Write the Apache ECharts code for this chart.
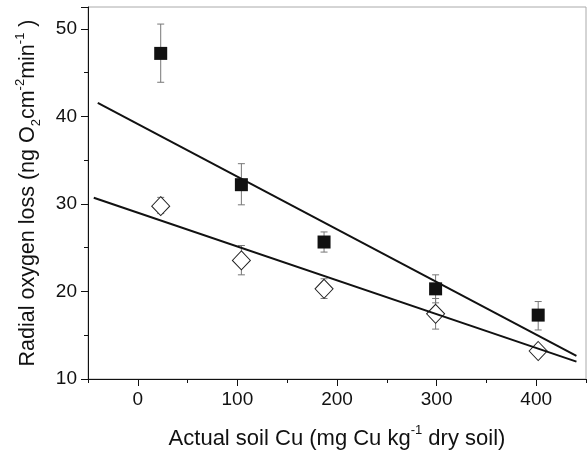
<!DOCTYPE html>
<html>
<head>
    <meta charset="utf-8">
    <title>Radial oxygen loss</title>
    <script src="https://cdn.jsdelivr.net/npm/echarts@6/dist/echarts.min.js"></script>
    <style>
        html, body { margin: 0; padding: 0; background: #fff; }
        #main { width: 588px; height: 455px; }
    </style>
</head>
<body>
<div id="main"></div>
<script type="text/javascript">
    // soil Cu (x) for both treatments
    var cuLevels = [23, 104, 187, 299, 402];

    // filled squares
    var squareMean = [47.2, 32.2, 25.65, 20.3, 17.3];
    var squareLow  = [43.9, 29.9, 24.5, 18.7, 15.6];
    var squareHigh = [50.55, 34.6, 26.8, 21.9, 18.85];

    // open diamonds
    var diamondMean = [29.75, 23.55, 20.3, 17.45, 13.2];
    var diamondLow  = [28.9, 21.9, 19.2, 15.7, 12.6];
    var diamondHigh = [30.75, 25.25, 21.45, 19.2, 13.7];

    // fitted regression lines (end points)
    var fitSquare  = [[-40.2, 41.54], [440.4, 12.63]];
    var fitDiamond = [[-44.2, 30.70], [440.4, 11.98]];

    var xMajorTicks = [0, 100, 200, 300, 400];
    var xMinorTicks = [-50, 50, 150, 250, 350, 450];

    var font = 'Liberation Sans, Arial, Helvetica, sans-serif';

    function zip(xs, ys) {
        return xs.map(function (x, i) { return [x, ys[i]]; });
    }
    function errData(xs, lo, hi) {
        return xs.map(function (x, i) { return [x, lo[i], hi[i]]; });
    }

    function renderErr(params, api) {
        var x = api.value(0);
        var top = api.coord([x, api.value(2)]);
        var bot = api.coord([x, api.value(1)]);
        var w = 3.5;
        var st = { stroke: '#777', lineWidth: 1 };
        return {
            type: 'group',
            children: [
                { type: 'line', shape: { x1: top[0], y1: top[1], x2: bot[0], y2: bot[1] }, style: st },
                { type: 'line', shape: { x1: top[0] - w, y1: top[1], x2: top[0] + w, y2: top[1] }, style: st },
                { type: 'line', shape: { x1: bot[0] - w, y1: bot[1], x2: bot[0] + w, y2: bot[1] }, style: st }
            ]
        };
    }

    // rich styles for axis titles with super/subscripts
    function richFor(size) {
        return {
            t: { fontSize: size, fontFamily: font, color: '#111', lineHeight: size, verticalAlign: 'middle' },
            sup: { fontSize: 13, fontFamily: font, color: '#111', lineHeight: 13, verticalAlign: 'top' },
            sub: { fontSize: 13, fontFamily: font, color: '#111', lineHeight: 13, verticalAlign: 'bottom' },
            pad: { fontSize: size, lineHeight: size + 8, verticalAlign: 'middle' }
        };
    }

    var myChart = echarts.init(document.getElementById('main'));

    var option = {
        animation: false,
        backgroundColor: '#fff',
        grid: {
            left: 88, right: 2, top: 7, bottom: 76,
            show: true, borderColor: '#aaa', borderWidth: 1, backgroundColor: 'transparent'
        },
        xAxis: [{
            type: 'value',
            min: -50, max: 450,
            name: '{pad|}{t|Actual soil Cu (mg Cu kg}{sup|-1}{t| dry soil)}',
            nameLocation: 'middle',
            nameGap: 45,
            nameTextStyle: { fontSize: 22, fontFamily: font, rich: richFor(22) },
            axisLine: { onZero: false, lineStyle: { color: '#111', width: 1 } },
            axisTick: { show: true, length: 7, customValues: xMajorTicks, lineStyle: { color: '#111' } },
            axisLabel: { customValues: xMajorTicks, margin: 11, fontSize: 19, fontFamily: font, color: '#111' },
            splitLine: { show: false }
        }, {
            type: 'value',
            position: 'bottom',
            min: -50, max: 450,
            axisLine: { show: false, onZero: false },
            axisTick: { show: true, length: 4, customValues: xMinorTicks, lineStyle: { color: '#111' } },
            axisLabel: { show: false },
            splitLine: { show: false }
        }],
        yAxis: {
            type: 'value',
            min: 10, max: 52.5, interval: 10,
            name: '{pad|}{t|Radial oxygen loss (ng O}{sub|2}{t|cm}{sup|-2}{t|min}{sup|-1}{t| )}',
            nameLocation: 'middle',
            nameGap: 45,
            nameTextStyle: { fontSize: 21.5, fontFamily: font, rich: richFor(21.5) },
            axisLine: { show: true, onZero: false, lineStyle: { color: '#111', width: 1 } },
            axisTick: { show: true, length: 7, lineStyle: { color: '#111' } },
            minorTick: { show: true, splitNumber: 2, length: 4, lineStyle: { color: '#111' } },
            axisLabel: { margin: 11, fontSize: 19, fontFamily: font, color: '#111', showMaxLabel: false },
            splitLine: { show: false }
        },
        series: [{
            type: 'custom',
            renderItem: renderErr,
            data: errData(cuLevels, squareLow, squareHigh),
            encode: { x: 0, y: [1, 2] },
            z: 1
        }, {
            type: 'custom',
            renderItem: renderErr,
            data: errData(cuLevels, diamondLow, diamondHigh),
            encode: { x: 0, y: [1, 2] },
            z: 1
        }, {
            type: 'scatter',
            data: zip(cuLevels, squareMean),
            symbol: 'rect',
            symbolSize: 13,
            itemStyle: { color: '#111', opacity: 1 },
            z: 2
        }, {
            type: 'scatter',
            data: zip(cuLevels, diamondMean),
            symbol: 'diamond',
            symbolSize: [18, 19],
            itemStyle: { color: '#fff', borderColor: '#222', borderWidth: 1, opacity: 1 },
            z: 2
        }, {
            type: 'line',
            data: fitSquare,
            showSymbol: false,
            lineStyle: { color: '#111', width: 2 },
            z: 3
        }, {
            type: 'line',
            data: fitDiamond,
            showSymbol: false,
            lineStyle: { color: '#111', width: 2 },
            z: 3
        }]
    };

    myChart.setOption(option);
</script>
</body>
</html>
